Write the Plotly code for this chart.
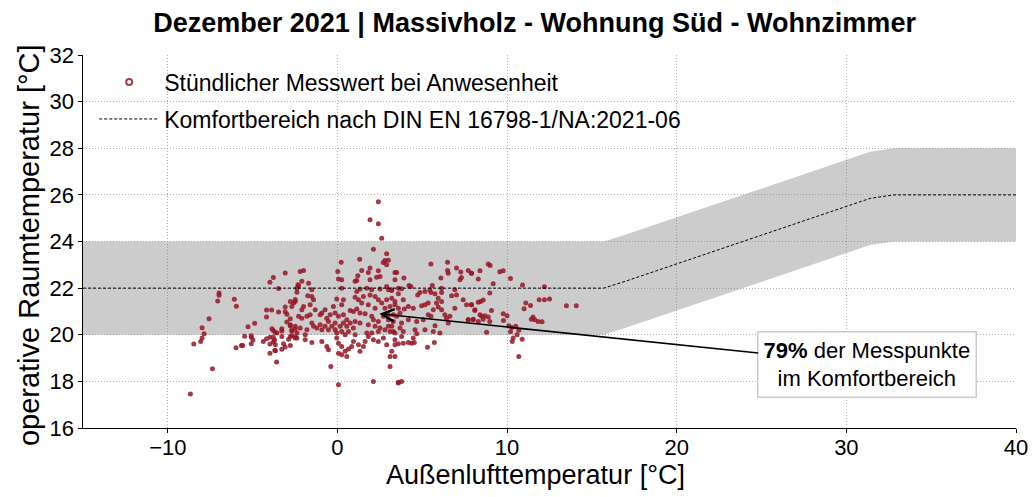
import plotly.graph_objects as go

# Hourly measurements while occupied: (outdoor air temp, operative room temp) in °C
messwerte = [
    (-8.67, 17.46), (-8.47, 19.6), (-7.37, 18.54), (-8.06, 19.71), (-7.98, 19.86), (-7.86, 20.04),
    (-7.98, 20.3), (-7.57, 20.69), (-6.98, 21.79), (-6.98, 21.69), (-7.06, 21.45), (-6.08, 21.52),
    (-5.96, 21.22), (-5.98, 19.44), (-5.66, 19.54), (-5.59, 19.54), (-5.47, 19.94), (-5.27, 20.34),
    (-5.08, 19.96), (-5.08, 19.89), (-4.98, 19.78), (-5.08, 19.61), (-4.88, 20.49), (-4.37, 19.71),
    (-4.18, 19.83), (-3.98, 19.89), (-3.78, 19.89), (-3.71, 19.78), (-3.98, 19.6), (-3.98, 19.21),
    (-3.69, 19.33), (-3.59, 18.83), (-3.78, 19.69), (-3.98, 22.25), (-3.78, 22.46), (-3.08, 22.65),
    (-3.47, 21.98), (-2.33, 22.14), (-2.39, 21.82), (-4.18, 21.06), (-3.88, 21.06), (-4.18, 20.76),
    (-3.47, 20.98), (-3.08, 21.19), (-3.08, 20.99), (-2.98, 20.88), (-2.78, 21.43), (-2.59, 21.36),
    (-2.49, 21.51), (-2.98, 20.55), (-2.78, 20.69), (-2.78, 20.39), (-2.49, 20.25), (-2.69, 20.15),
    (-3.28, 20.26), (-3.28, 20.16), (-3.86, 20.26), (-3.78, 20.18), (-3.66, 20.1), (-3.57, 20.07),
    (-3.28, 19.93), (-3.18, 19.61), (-3.08, 19.47), (-3.28, 19.38), (-3.66, 19.57), (-3.66, 19.31),
    (-2.78, 19.54), (-2.88, 19.81), (-2.69, 19.96), (-2.49, 19.9), (-2.39, 19.86),
    (2.41, 25.7), (1.92, 24.93), (2.41, 24.76), (2.61, 24.14),
    (2.12, 23.67), (2.9, 23.47), (2.8, 23.19), (2.7, 23.1), (3.0, 23.2), (2.9, 23.0), (1.31, 23.24),
    (0.22, 23.11), (0.02, 22.71), (1.92, 22.86), (1.82, 22.67), (1.43, 22.76), (2.41, 22.74),
    (2.51, 22.5), (2.31, 22.47), (1.2, 22.53), (1.14, 22.33), (1.04, 22.29), (0.06, 22.39),
    (0.25, 22.36), (-2.0, 22.76), (-2.2, 22.71), (-2.1, 22.29), (-1.7, 22.21), (-2.29, 22.1),
    (1.92, 22.36), (3.49, 22.67), (3.39, 22.36),
    (1.33, 21.96), (1.73, 22.0), (2.02, 21.93), (2.51, 21.96), (2.9, 22.07), (3.2, 21.93),
    (0.25, 22.0), (1.14, 21.86), (-1.51, 21.93), (-2.39, 22.0),
    (1.53, 21.64), (1.92, 21.71), (2.22, 21.64), (2.41, 21.5), (2.61, 21.36), (2.9, 21.5),
    (3.2, 21.57), (3.39, 21.29), (2.8, 21.14), (2.22, 21.14), (1.82, 21.29), (1.43, 21.36),
    (1.24, 21.5), (1.04, 21.61), (0.75, 21.04), (0.94, 21.0), (1.14, 21.1), (1.33, 20.93),
    (1.63, 20.9), (2.02, 20.79), (2.12, 20.64), (2.41, 20.57), (2.71, 20.79), (3.0, 20.64),
    (3.29, 20.57), (3.49, 20.79), (1.82, 20.43), (2.22, 20.36), (2.51, 20.29), (2.8, 20.21),
    (3.1, 20.14), (3.39, 20.07), (1.73, 20.07), (1.33, 20.5), (1.04, 20.57), (0.55, 20.64),
    (0.35, 20.86), (0.06, 20.79), (-0.14, 20.93), (-0.43, 20.86), (-0.63, 20.71), (-0.92, 20.93),
    (-0.73, 21.07), (-0.24, 21.21), (0.25, 21.29), (-0.04, 21.53), (0.35, 21.5), (-1.75, 21.67),
    (-1.51, 21.64), (-1.41, 21.5), (-1.61, 21.29), (-2.0, 21.21), (-2.1, 21.07), (-2.49, 21.43),
    (-2.69, 21.21), (-2.29, 20.79), (-2.1, 20.71), (-1.8, 20.79), (-1.61, 20.86), (-1.31, 21.07),
    (-1.02, 20.86), (-1.51, 20.5), (-1.41, 20.36), (-1.02, 20.43), (-0.73, 20.36), (-0.53, 20.57),
    (-0.33, 20.36), (-0.14, 20.5), (0.16, 20.36), (0.35, 20.5), (0.55, 20.36), (0.75, 20.5),
    (0.94, 20.29), (0.65, 20.14), (0.25, 20.14), (-0.14, 20.21), (-0.53, 20.21), (-0.92, 20.21),
    (-1.22, 20.29), (-1.8, 20.21), (-2.2, 20.29), (-2.49, 20.36), (-2.69, 20.21), (-2.78, 20.43),
    (-2.39, 20.07), (-1.9, 20.0), (-0.04, 20.07), (0.45, 20.0), (1.04, 20.0), (2.02, 20.07),
    (2.41, 20.14), (3.0, 20.36),
    (-2.78, 19.93), (-2.49, 19.86), (-1.9, 19.79), (-1.51, 19.67), (-0.92, 19.71), (-0.63, 19.5),
    (-0.53, 19.36), (-0.04, 19.86), (0.06, 19.64), (0.25, 19.5), (0.06, 19.21), (0.25, 19.14),
    (0.45, 19.29), (0.65, 19.39), (0.55, 19.07), (0.84, 19.5), (0.94, 19.71), (1.24, 19.57),
    (1.33, 19.29), (1.53, 19.5), (1.63, 19.71), (1.82, 19.93), (2.12, 19.79), (2.41, 19.71),
    (2.71, 19.86), (2.9, 19.57), (3.39, 19.79), (3.1, 18.64), (-0.39, 18.64), (0.06, 17.86),
    (2.12, 18.0), (3.59, 17.96),
    (5.51, 23.03), (6.49, 23.11), (6.49, 22.76), (6.53, 22.64), (7.02, 22.86), (7.27, 22.69),
    (7.22, 22.36), (7.31, 22.46), (7.71, 22.76), (7.9, 22.64), (6.1, 22.43), (5.59, 22.11),
    (4.22, 22.11), (4.33, 22.07), (3.92, 22.43), (3.39, 22.67), (3.59, 22.0), (3.78, 21.97),
    (3.2, 21.9), (3.0, 21.93), (3.59, 21.76), (3.88, 21.5), (3.39, 21.43), (3.1, 21.21),
    (3.59, 21.14), (3.94, 21.1), (3.69, 20.93), (3.29, 20.86), (3.0, 20.86), (4.18, 21.21),
    (4.47, 21.14), (4.73, 21.71), (4.86, 21.81), (5.16, 21.86), (5.45, 21.93), (5.51, 21.81),
    (5.75, 21.76), (6.14, 21.81), (6.92, 21.93), (7.02, 21.71), (6.73, 21.67), (5.94, 21.57),
    (6.14, 21.43), (5.84, 21.36), (5.94, 21.19), (6.14, 21.07), (5.65, 21.07), (5.35, 20.86),
    (5.51, 20.79), (5.16, 21.29), (4.96, 21.24), (5.35, 21.36), (6.33, 20.86), (6.43, 20.71),
    (6.53, 20.5), (6.63, 20.79), (6.92, 21.14), (7.41, 21.5), (7.61, 21.29), (7.9, 21.29),
    (8.1, 21.07), (7.71, 20.64), (8.0, 20.67), (5.06, 20.64), (4.67, 20.57), (4.18, 20.64),
    (3.78, 20.5), (3.69, 20.29), (3.29, 20.14), (3.2, 20.36), (3.88, 20.14), (4.57, 20.21),
    (5.16, 20.21), (5.75, 20.39), (6.04, 20.07), (5.65, 20.14), (4.47, 19.86), (4.67, 20.04),
    (4.18, 19.67), (3.78, 19.93), (3.88, 19.64), (3.39, 19.57), (3.59, 19.61), (3.2, 19.29),
    (3.39, 19.07), (3.1, 19.07), (5.71, 19.67), (5.31, 19.46), (4.37, 19.64), (4.53, 19.67),
    (3.59, 17.93), (3.78, 18.0), (6.14, 22.0),
    (8.89, 23.04), (9.0, 22.97), (7.9, 22.64), (8.4, 22.74), (9.57, 22.7), (9.77, 22.74),
    (8.3, 22.39), (9.18, 22.19), (10.2, 22.41), (10.91, 22.13), (12.2, 22.06), (8.98, 21.79),
    (7.9, 21.29), (8.3, 21.39), (8.44, 21.43), (8.59, 21.49), (8.1, 21.04), (9.08, 21.04),
    (8.4, 20.86), (8.5, 20.79), (8.69, 20.81), (8.89, 20.76), (8.59, 20.67), (8.3, 20.57),
    (8.0, 20.64), (7.71, 20.64), (8.98, 20.57), (8.79, 20.11), (9.77, 20.9), (10.0, 20.81),
    (9.79, 20.61), (10.1, 20.39), (10.28, 20.31), (10.51, 20.36), (10.69, 20.19), (10.2, 20.13),
    (10.36, 19.86), (10.59, 20.0), (10.3, 19.71), (10.89, 19.81), (10.69, 19.07), (11.1, 21.36),
    (11.0, 21.11), (11.38, 21.26), (11.89, 21.5), (12.2, 21.5), (12.5, 21.53), (13.5, 21.24),
    (14.08, 21.24), (11.43, 20.67), (11.53, 20.76), (11.63, 20.64), (11.83, 20.57), (12.06, 20.56),
]
aussen_temp = [p[0] for p in messwerte]
raum_temp = [p[1] for p in messwerte]

# Comfort range according to DIN EN 16798-1/NA:2021-06
komfort_x = [-15, 15.7, 17.0, 31.4, 32.8, 40]
komfort_mitte = [22.0, 22.0, 22.3, 25.85, 26.0, 26.0]
komfort_unten = [20.0, 20.0, 20.3, 23.85, 24.0, 24.0]
komfort_oben = [24.0, 24.0, 24.3, 27.85, 28.0, 28.0]

# Axis ticks
x_ticks = [-10, 0, 10, 20, 30, 40]
y_ticks = [16, 18, 20, 22, 24, 26, 28, 30, 32]

# Annotation: share of points inside the comfort range
anteil_text = "<b>79%</b> der Messpunkte<br>im Komfortbereich"
pfeil_ziel = (2.47, 20.9)
text_pos = (31.24, 18.73)

punkt_farbe = "rgba(150,22,38,0.85)"
schrift = "Liberation Sans, Arial, sans-serif"

fig = go.Figure()

# grey comfort band
fig.add_trace(go.Scatter(x=komfort_x, y=komfort_unten, mode="lines",
                         line=dict(width=0), hoverinfo="skip", showlegend=False))
fig.add_trace(go.Scatter(x=komfort_x, y=komfort_oben, mode="lines", fill="tonexty",
                         fillcolor="rgba(128,128,128,0.4)", line=dict(width=0),
                         hoverinfo="skip", showlegend=False))

# scatter points
fig.add_trace(go.Scatter(x=aussen_temp, y=raum_temp, mode="markers",
                         marker=dict(size=5, color=punkt_farbe, line=dict(width=0)),
                         showlegend=False))
# legend entry with open marker
fig.add_trace(go.Scatter(x=[None], y=[None], mode="markers",
                         marker=dict(size=6, symbol="circle-open", color=punkt_farbe,
                                     line=dict(width=2)),
                         name="Stündlicher Messwert bei Anwesenheit", legendgroup="a"))
# comfort centre line
fig.add_trace(go.Scatter(x=komfort_x, y=komfort_mitte, mode="lines",
                         line=dict(color="black", width=1, dash="3px,2px"),
                         name="Komfortbereich nach DIN EN 16798-1/NA:2021-06", legendgroup="b"))

fig.add_annotation(x=pfeil_ziel[0], y=pfeil_ziel[1], ax=text_pos[0], ay=text_pos[1],
                   xref="x", yref="y", axref="x", ayref="y",
                   text=anteil_text, showarrow=True, arrowhead=5, arrowsize=1.5,
                   arrowwidth=1.6, arrowcolor="black", standoff=0,
                   font=dict(size=22, color="black", family=schrift),
                   bgcolor="white", bordercolor="#cccccc", borderwidth=1.5, borderpad=5)

# axis titles
fig.add_annotation(text="Außenlufttemperatur [°C]", xref="paper", yref="paper",
                   x=0.4855, y=-0.125, xanchor="center", yanchor="middle", showarrow=False,
                   font=dict(size=27, color="black", family=schrift))
fig.add_annotation(text="operative Raumtemperatur [°C]", xref="paper", yref="paper",
                   x=-0.058, y=0.49, xanchor="center", yanchor="middle", showarrow=False,
                   textangle=-90, font=dict(size=29, color="black", family=schrift))

achse = dict(showline=True, linecolor="black", linewidth=1.2, ticks="outside", ticklen=3.5,
             tickcolor="black", tickfont=dict(size=22, color="black", family=schrift),
             showgrid=True, gridcolor="#b0b0b0", griddash="1px,2px", gridwidth=1,
             zeroline=False, mirror=False, automargin=False)

fig.update_layout(
    width=1032, height=497,
    margin=dict(l=83, r=16, t=55, b=69),
    plot_bgcolor="white", paper_bgcolor="white",
    font=dict(family=schrift, color="black"),
    title=dict(text="<b>Dezember 2021 | Massivholz - Wohnung Süd - Wohnzimmer</b>",
               x=0.518, xref="container", xanchor="center", y=0.955, yanchor="middle",
               font=dict(size=27, color="black", family=schrift)),
    xaxis=dict(range=[-15, 40], tickvals=x_ticks, ticklabelstandoff=-4, **achse),
    yaxis=dict(range=[16, 32], tickvals=y_ticks, **achse),
    legend=dict(x=0.012, y=0.985, xanchor="left", yanchor="top", bgcolor="rgba(0,0,0,0)",
                font=dict(size=23, family=schrift, color="black"), itemwidth=60,
                traceorder="grouped", tracegroupgap=4),
)

fig.write_html("out.html")
